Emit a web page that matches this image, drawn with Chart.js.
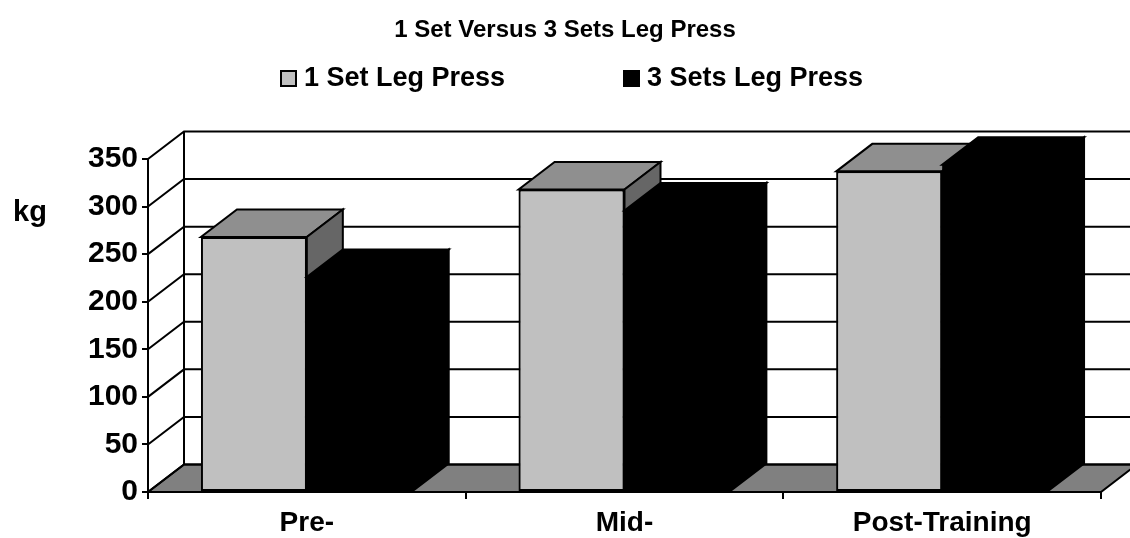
<!DOCTYPE html>
<html>
<head>
<meta charset="utf-8">
<script src="https://cdn.jsdelivr.net/npm/chart.js@4.4.1/dist/chart.umd.min.js"></script>
<style>
    html, body { margin: 0; padding: 0; background: #ffffff; }
</style>
</head>
<body>
<canvas id="myChart" width="1130" height="538"></canvas>
<script>
const categories = ['Pre-', 'Mid-', 'Post-Training'];
const oneSetValues = [268, 318, 337];
const threeSetValues = [226, 296, 344];
const seriesLabels = ['1 Set Leg Press', '3 Sets Leg Press'];
const yTicks = [0, 50, 100, 150, 200, 250, 300, 350];
const yTitle = 'kg';
const chartTitle = '1 Set Versus 3 Sets Leg Press';

const FONT = "'Liberation Sans', Arial, sans-serif";
const DX = 36;      // depth offset of the 3D box
const DY = -27.5;

const frontColors = ['#c0c0c0', '#000000'];
const topColors = ['#8f8f8f', '#000000'];
const sideColors = ['#666666', '#000000'];

// draws walls, floor, bars as boxes, legend and the "kg" label
const box3d = {
    id: 'box3d',
    beforeDatasetsDraw(chart) {
        const { ctx, chartArea: a, scales: { y } } = chart;
        const y0 = y.getPixelForValue(0);
        const yTop = y.getPixelForValue(yTicks[yTicks.length - 1]);
        ctx.save();
        ctx.lineWidth = 2;
        ctx.strokeStyle = '#000';

        // floor
        ctx.fillStyle = '#808080';
        ctx.beginPath();
        ctx.moveTo(a.left, y0);
        ctx.lineTo(a.right, y0);
        ctx.lineTo(a.right + DX, y0 + DY);
        ctx.lineTo(a.left + DX, y0 + DY);
        ctx.closePath();
        ctx.fill();
        ctx.stroke();

        // side wall diagonals + back wall gridlines
        yTicks.forEach(v => {
            const py = y.getPixelForValue(v);
            ctx.beginPath();
            ctx.moveTo(a.left, py);
            ctx.lineTo(a.left + DX, py + DY);
            ctx.lineTo(a.right + DX, py + DY);
            ctx.stroke();
        });

        // back wall left edge
        ctx.beginPath();
        ctx.moveTo(a.left + DX, y0 + DY);
        ctx.lineTo(a.left + DX, yTop + DY);
        ctx.stroke();

        // front value axis
        ctx.beginPath();
        ctx.moveTo(a.left, y0);
        ctx.lineTo(a.left, yTop);
        ctx.stroke();
        ctx.restore();
    },
    afterDatasetsDraw(chart) {
        const { ctx, chartArea } = chart;
        const metas = chart.data.datasets.map((d, i) => chart.getDatasetMeta(i));
        // left to right inside every group, so each box covers the one before it
        categories.forEach((c, j) => {
            metas.forEach((meta, i) => {
                const bar = meta.data[j];
                bar.draw(ctx, chartArea);
                const p = bar.getProps(['x', 'y', 'base', 'width'], true);
                const xl = p.x - p.width / 2;
                const xr = p.x + p.width / 2;
                ctx.save();
                ctx.lineWidth = 2;
                ctx.strokeStyle = '#000';
                // top face
                ctx.fillStyle = topColors[i];
                ctx.beginPath();
                ctx.moveTo(xl, p.y);
                ctx.lineTo(xr, p.y);
                ctx.lineTo(xr + DX, p.y + DY);
                ctx.lineTo(xl + DX, p.y + DY);
                ctx.closePath();
                ctx.fill();
                ctx.stroke();
                // side face
                ctx.fillStyle = sideColors[i];
                ctx.beginPath();
                ctx.moveTo(xr, p.y);
                ctx.lineTo(xr + DX, p.y + DY);
                ctx.lineTo(xr + DX, p.base + DY);
                ctx.lineTo(xr, p.base);
                ctx.closePath();
                ctx.fill();
                ctx.stroke();
                ctx.restore();
            });
        });
    },
    afterDraw(chart) {
        const { ctx } = chart;
        ctx.save();
        ctx.font = 'bold 27px ' + FONT;
        ctx.textBaseline = 'middle';
        ctx.textAlign = 'left';
        // legend
        const legendItems = [
            { x: 281, text: seriesLabels[0], color: frontColors[0] },
            { x: 624, text: seriesLabels[1], color: frontColors[1] }
        ];
        legendItems.forEach(item => {
            ctx.fillStyle = item.color;
            ctx.fillRect(item.x, 71, 15, 15);
            ctx.lineWidth = 2;
            ctx.strokeStyle = '#000';
            ctx.strokeRect(item.x, 71, 15, 15);
            ctx.fillStyle = '#000';
            ctx.fillText(item.text, item.x + 23, 79);
        });
        // axis title
        ctx.font = 'bold 29px ' + FONT;
        ctx.fillText(yTitle, 13, 213);
        ctx.restore();
    }
};

const ctx = document.getElementById('myChart').getContext('2d');
new Chart(ctx, {
    type: 'bar',
    data: {
        labels: categories,
        datasets: [
            {
                label: seriesLabels[0],
                data: oneSetValues,
                backgroundColor: frontColors[0],
                borderColor: '#000000',
                borderWidth: 2,
                borderSkipped: false
            },
            {
                label: seriesLabels[1],
                data: threeSetValues,
                backgroundColor: frontColors[1],
                borderColor: '#000000',
                borderWidth: 0
            }
        ]
    },
    options: {
        responsive: false,
        animation: false,
        devicePixelRatio: 1,
        categoryPercentage: 2 / 3,
        barPercentage: 1,
        layout: { padding: { left: 29, right: 29, top: 0, bottom: 0 } },
        scales: {
            x: {
                grid: {
                    display: true,
                    offset: true,
                    drawOnChartArea: false,
                    drawTicks: true,
                    tickLength: 7,
                    color: '#000',
                    lineWidth: 2
                },
                border: { display: false },
                ticks: {
                    color: '#000',
                    padding: 7,
                    maxRotation: 0,
                    font: { family: FONT, size: 28, weight: 'bold' }
                },
                afterFit(scale) { scale.height = 46; }
            },
            y: {
                min: 0,
                max: 350,
                grid: {
                    display: true,
                    drawOnChartArea: false,
                    drawTicks: true,
                    tickLength: 6,
                    color: '#000',
                    lineWidth: 2
                },
                border: { display: false },
                ticks: {
                    stepSize: 50,
                    color: '#000',
                    padding: 4,
                    font: { family: FONT, size: 30, weight: 'bold' }
                },
                afterFit(scale) { scale.width = 119; }
            }
        },
        plugins: {
            legend: { display: false },
            tooltip: { enabled: false },
            title: {
                display: true,
                text: chartTitle,
                color: '#000',
                font: { family: FONT, size: 24, weight: 'bold' },
                padding: { top: 16, bottom: 114.2 }
            }
        }
    },
    plugins: [box3d]
});
</script>
</body>
</html>
